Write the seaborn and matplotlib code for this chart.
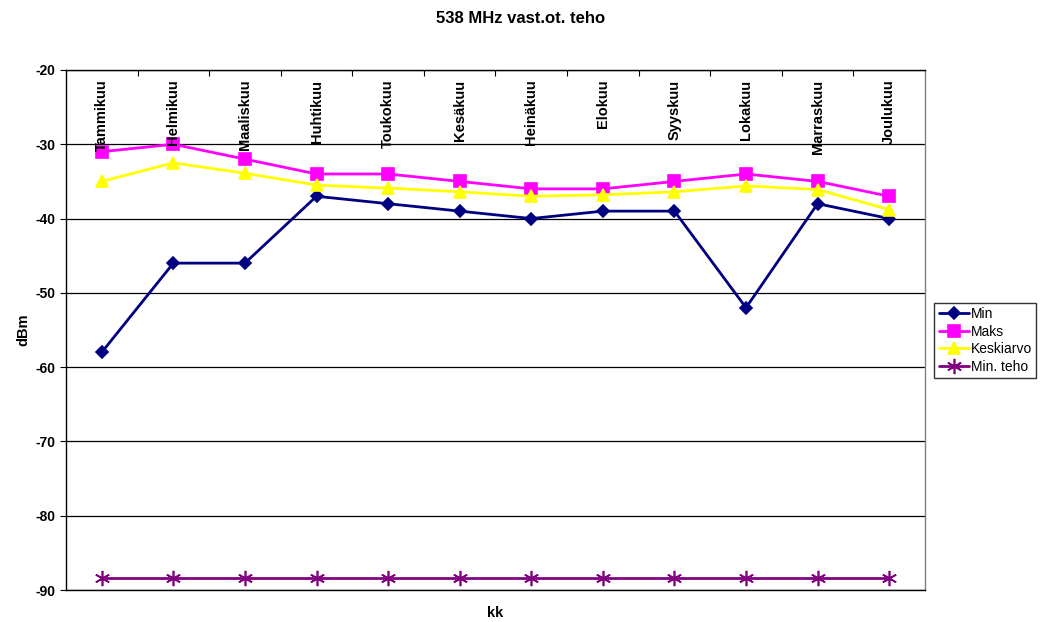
import pandas as pd
import numpy as np
import matplotlib
matplotlib.use('Agg')
import matplotlib.pyplot as plt
import seaborn as sns

# data
months = ['Tammikuu', 'Helmikuu', 'Maaliskuu', 'Huhtikuu', 'Toukokuu', 'Kesäkuu',
          'Heinäkuu', 'Elokuu', 'Syyskuu', 'Lokakuu', 'Marraskuu', 'Joulukuu']
min_vals = [-58, -46, -46, -37, -38, -39, -40, -39, -39, -52, -38, -40]
maks_vals = [-31, -30, -32, -34, -34, -35, -36, -36, -35, -34, -35, -37]
keski_vals = [-35.0, -32.5, -33.9, -35.5, -35.9, -36.4, -37.0, -36.8, -36.4, -35.6, -36.1, -38.8]
min_teho_vals = [-88.4] * 12

series = {'Min': min_vals, 'Maks': maks_vals, 'Keskiarvo': keski_vals, 'Min. teho': min_teho_vals}
rows = []
for name, vals in series.items():
    for i, v in enumerate(vals):
        rows.append({'kk': i, 'dBm': v, 'sarja': name})
df = pd.DataFrame(rows)

sns.set_style('white')
plt.rcParams['font.family'] = ['Liberation Sans', 'DejaVu Sans']
plt.rcParams['text.color'] = 'black'
plt.rcParams['axes.labelcolor'] = 'black'
plt.rcParams['xtick.color'] = 'black'
plt.rcParams['ytick.color'] = 'black'

fig = plt.figure(figsize=(10.42, 6.22), dpi=100)
ax = fig.add_axes([0.0633, 0.0514, 0.8244, 0.8361])

palette = {'Min': '#000080', 'Maks': '#FF00FF', 'Keskiarvo': '#FFFF00', 'Min. teho': '#800080'}
markers = {'Min': 'D', 'Maks': 's', 'Keskiarvo': '^', 'Min. teho': (6, 2, 0)}
sizes = {'Min': 6, 'Maks': 8, 'Keskiarvo': 8, 'Min. teho': 11}

# horizontal gridlines
ax.yaxis.grid(True, color='black', linewidth=0.9)
ax.set_axisbelow(True)

for name in series:
    sub = df[df['sarja'] == name]
    sns.lineplot(data=sub, x='kk', y='dBm', ax=ax, color=palette[name], marker=markers[name],
                 markersize=sizes[name], markeredgecolor=palette[name], markeredgewidth=1.2,
                 linewidth=2, label=name)

ax.set_xlim(-0.5, 11.5)
ax.set_ylim(-90, -20)
ax.set_yticks(np.arange(-90, -19, 10))
ax.set_yticklabels([str(v) for v in range(-90, -19, 10)], fontsize=10, fontweight='bold')

# category ticks on top edge, labels inside plot
ax.set_xticks(np.arange(0.5, 11, 1))
ax.set_xticklabels([])
ax.tick_params(axis='x', which='both', top=True, bottom=False, direction='in', length=4, color='black')
ax.tick_params(axis='y', which='both', left=True, direction='out', length=4, color='black')
for i, m in enumerate(months):
    ax.text(i, -21.3, m, rotation=90, ha='center', va='top', fontsize=10.5, fontweight='bold')

for side in ['top', 'bottom', 'left']:
    ax.spines[side].set_color('black')
ax.spines['right'].set_color('#808080')
for s in ax.spines.values():
    s.set_linewidth(1)

ax.set_xlabel('kk', fontsize=10.5, fontweight='bold', labelpad=8)
ax.set_ylabel('dBm', fontsize=10.5, fontweight='bold', labelpad=4)
fig.suptitle('538 MHz vast.ot. teho', fontsize=12, fontweight='bold', y=0.982)

leg = ax.legend(loc='center left', bbox_to_anchor=(1.011, 0.48), frameon=True, fontsize=10,
                handlelength=2.2, fancybox=False, borderpad=0.3, labelspacing=0.25,
                handletextpad=0.1, borderaxespad=0)
leg.get_frame().set_edgecolor('black')
leg.get_frame().set_linewidth(1)

fig.savefig('out.png', dpi=100)
